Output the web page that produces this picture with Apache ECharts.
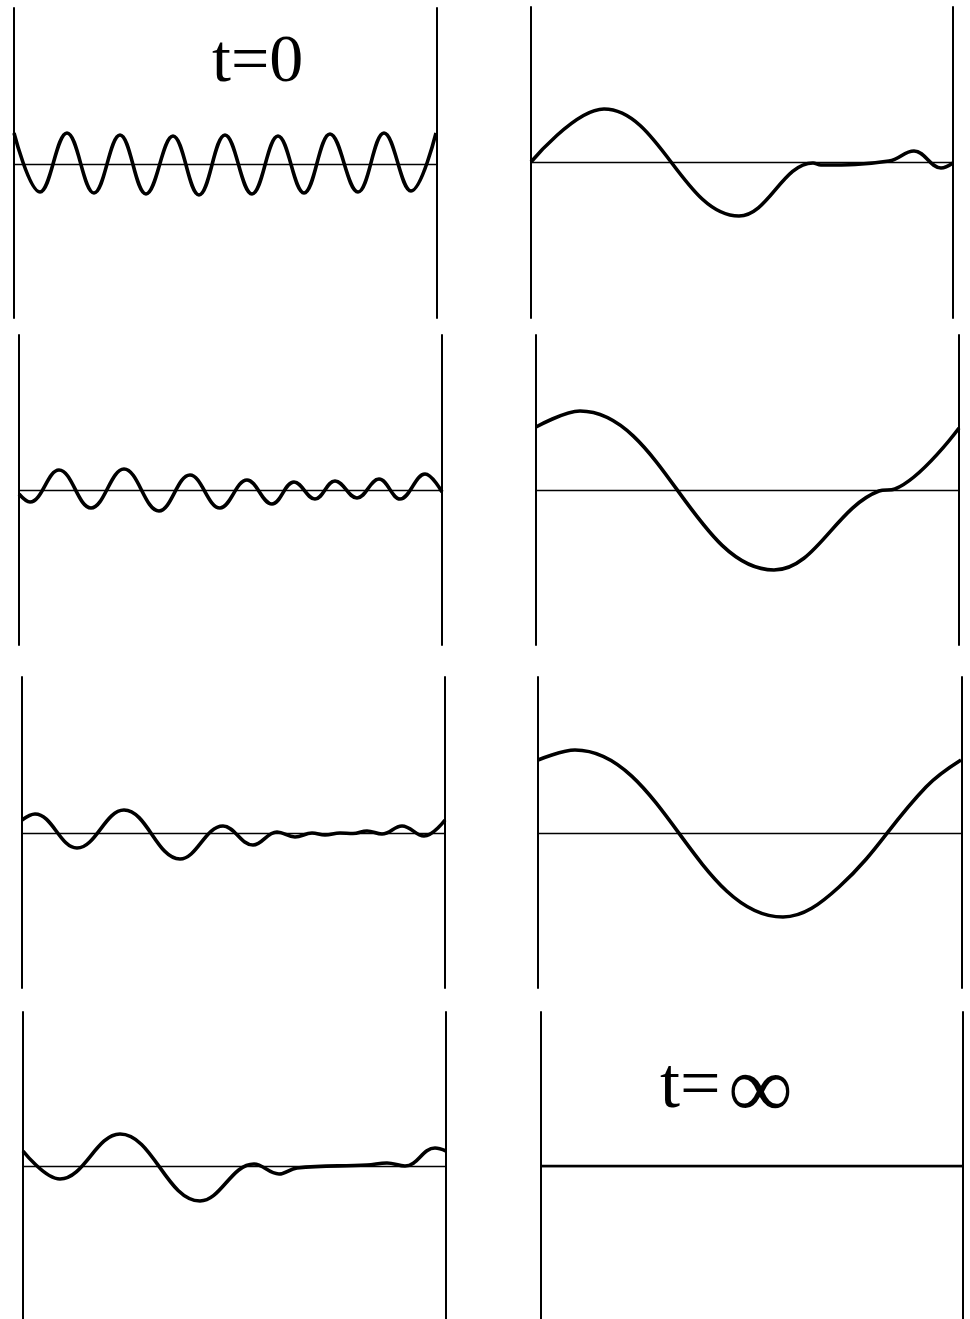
<!DOCTYPE html>
<html>
	<head>
		<meta charset="utf-8">
		<title>t=0 ... t=∞</title>
		<script src="https://cdn.jsdelivr.net/npm/echarts@6/dist/echarts.min.js"></script>
	</head>
	<body style="margin:0;background:#fff;">
		<div id="main" style="width: 970px;height:1319px;"></div>
		<script type="text/javascript">
			// curve points: [x from left wall, height above the base line]
			var wave1 = [[0, 31], [26, -28], [53, 31], [80, -29], [106, 29], [132, -30], [159, 28], [185, -31], [211, 29],
				[238, -30], [264, 28], [290, -29], [316, 30], [344, -28], [370, 31], [397, -27], [422, 31]];
			var wave2 = [[0, 0], [73, 53], [208, -54], [282, -1], [290, -3], [358, 1], [383, 11], [410, -6], [422, -1]];
			var wave3 = [[0, -4], [11, -12], [40, 20], [72, -18], [105, 21], [140, -21], [171, 15], [201, -18], [228, 10],
				[253, -14], [275, 8], [296, -9], [316, 9], [338, -8], [360, 11], [381, -9], [406, 16], [423, -2]];
			var wave4 = [[0, 63], [44, 79], [238, -80], [343, -1], [359, 1], [423, 62]];
			var wave5 = [[0, 13], [13, 19], [55, -15], [102, 23], [158, -26], [201, 7], [231, -12], [255, 1], [273, -4],
				[290, 0], [303, -2], [318, 0], [331, -0.5], [345, 2], [360, -1], [380, 7], [402, -3], [423, 13]];
			var wave6 = [[0, 73], [37, 83], [245, -84], [301, -54], [388, 46], [423, 73]];
			var wave7 = [[0, 15], [37, -13], [97, 32], [177, -35], [231, 2], [256, -8], [274, -2], [344, 1], [364, 3],
				[382, 0], [412, 18], [423, 15]];
			var wave8 = [[0, 0], [422, 0]];
			var waves = [wave1, wave2, wave3, wave4, wave5, wave6, wave7, wave8];

			// panel frames: left wall x, wall top, base line y, wall bottom, width
			var frames = [
				[14, 8, 164, 318, 423], [531, 7, 162, 318, 422],
				[19, 335, 490, 645, 423], [536, 335, 490, 645, 423],
				[22, 677, 833, 988, 423], [538, 677, 833, 988, 424],
				[23, 1012, 1166, 1319, 423], [541, 1012, 1166, 1319, 422]
			];

			var myChart = echarts.init(document.getElementById('main'));

			var grid = [], xAxis = [], yAxis = [], series = [];
			for (var i = 0; i < frames.length; i++) {
				var f = frames[i];
				grid.push({ left: f[0], top: f[1], width: f[4], height: f[3] - f[1], show: false });
				xAxis.push({
					type: 'value', gridIndex: i, min: 0, max: f[4],
					axisLine: { show: true, onZero: true, onZeroAxisIndex: 2 * i, lineStyle: { color: '#000', width: 1.3 } },
					axisTick: { show: false }, axisLabel: { show: false }, splitLine: { show: false }
				});
				// the two walls
				['left', 'right'].forEach(function (pos) {
					yAxis.push({
						type: 'value', gridIndex: i, position: pos, min: -(f[3] - f[2]), max: f[2] - f[1],
						axisLine: { show: true, onZero: false, lineStyle: { color: '#000', width: 2 } },
						axisTick: { show: false }, axisLabel: { show: false }, splitLine: { show: false }
					});
				});
				series.push({
					type: 'line', xAxisIndex: i, yAxisIndex: 2 * i,
					data: waves[i], smooth: 0.4, showSymbol: false, clip: false, silent: true,
					lineStyle: { color: '#000', width: i === 7 ? 2.3 : 3.6 }
				});
			}

			var option = {
				animation: false,
				backgroundColor: '#fff',
				title: [
					{ text: 't=0', left: 207, top: 24, textStyle: { fontFamily: 'Liberation Serif', fontSize: 68, fontWeight: 'normal', color: '#000' } },
					{ text: 't=', left: 655, top: 1047, textStyle: { fontFamily: 'Liberation Serif', fontSize: 72, fontWeight: 'normal', color: '#000' } },
					{ text: '∞', left: 724, top: 1045, textStyle: { fontFamily: 'Liberation Serif', fontSize: 88, fontWeight: 'bold', color: '#000' } }
				],
				grid: grid,
				xAxis: xAxis,
				yAxis: yAxis,
				series: series
			};
			myChart.setOption(option);
		</script>
	</body>
</html>
